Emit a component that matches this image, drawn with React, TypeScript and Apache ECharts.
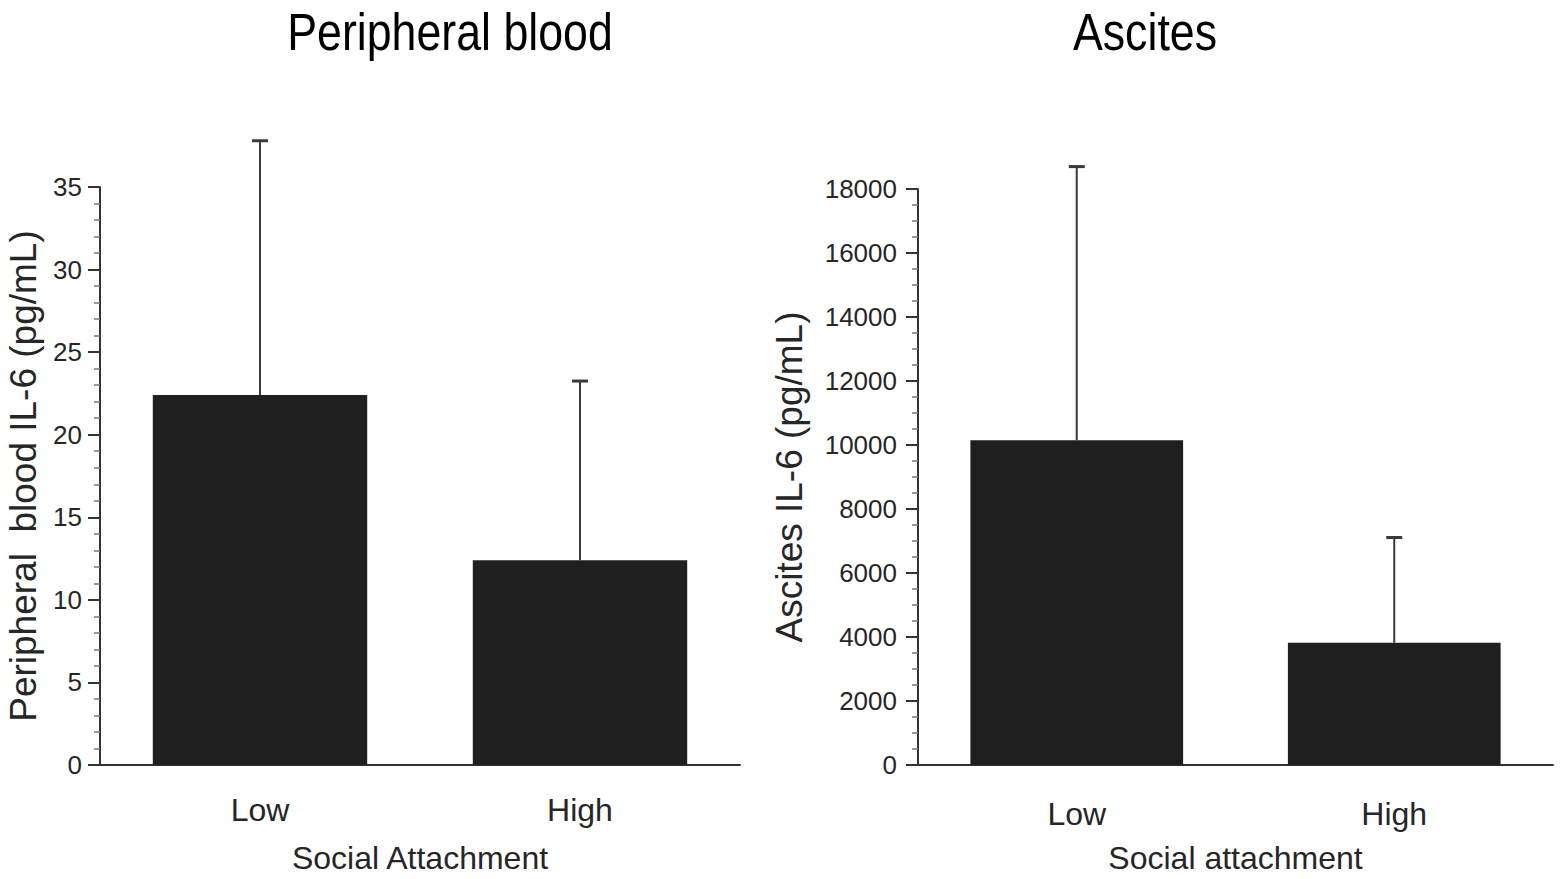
import React, { useEffect, useRef } from 'react';
import * as echarts from 'echarts';

const categories = ['Low', 'High'];
const bloodMean = [22.4, 12.4];
const bloodUpper = [37.8, 23.25];
const ascitesMean = [10150, 3820];
const ascitesUpper = [18700, 7110];

const bloodTitle = 'Peripheral blood';
const ascitesTitle = 'Ascites';
const bloodYName = 'Peripheral  blood IL-6 (pg/mL)';
const ascitesYName = 'Ascites IL-6 (pg/mL)';
const bloodXName = 'Social Attachment';
const ascitesXName = 'Social attachment';

const REG = '"Liberation Sans", Arial, sans-serif';
const AXIS = '#333';
const TEXT = '#262626';

function errorSeries(idx: number, means: number[], uppers: number[]) {
  return {
    type: 'custom',
    xAxisIndex: idx,
    yAxisIndex: idx,
    clip: false,
    z: 5,
    encode: { x: 0, y: [1, 2] },
    data: categories.map((_, i) => [i, means[i], uppers[i]]),
    renderItem: (params: any, api: any) => {
      const x = api.value(0);
      const base = api.coord([x, api.value(1)]);
      const top = api.coord([x, api.value(2)]);
      const hw = 8;
      return {
        type: 'group',
        children: [
          { type: 'line', shape: { x1: base[0], y1: base[1], x2: top[0], y2: top[1] }, style: { stroke: '#3a3a3a', lineWidth: 2 } },
          { type: 'line', shape: { x1: top[0] - hw, y1: top[1], x2: top[0] + hw, y2: top[1] }, style: { stroke: '#3a3a3a', lineWidth: 3 } },
        ],
      };
    },
  };
}

function xAxis(idx: number, name: string, labelMargin: number) {
  return {
    type: 'category',
    gridIndex: idx,
    data: categories,
    name,
    nameLocation: 'middle',
    nameGap: 77,
    nameTextStyle: { fontFamily: REG, fontSize: 32, color: TEXT },
    axisLine: { lineStyle: { color: AXIS, width: 2 } },
    axisTick: { length: 14, lineStyle: { color: AXIS, width: 2 } },
    axisLabel: { fontFamily: REG, fontSize: 32, color: TEXT, margin: labelMargin },
  };
}

function yAxis(idx: number, name: string, max: number, interval: number, minorSplit: number, nameGap: number, labelMargin: number) {
  return {
    type: 'value',
    gridIndex: idx,
    min: 0,
    max,
    interval,
    name,
    nameLocation: 'middle',
    nameRotate: 90,
    nameGap,
    nameTextStyle: { fontFamily: REG, fontSize: 37, color: TEXT },
    splitLine: { show: false },
    axisLine: { show: true, lineStyle: { color: AXIS, width: 2 } },
    axisTick: { show: true, length: 12, lineStyle: { color: AXIS, width: 2 } },
    minorTick: { show: true, splitNumber: minorSplit, length: 6, lineStyle: { color: '#777', width: 1.5 } },
    axisLabel: { fontFamily: REG, fontSize: 26, color: TEXT, margin: labelMargin, formatter: (v: number) => String(v) },
  };
}

function titleText(text: string, x: number) {
  return {
    type: 'text',
    x,
    y: 32,
    scaleX: 0.86,
    style: { text, font: `52px ${REG}`, fill: '#000', align: 'center', verticalAlign: 'middle', textAlign: 'center', textVerticalAlign: 'middle' },
  };
}

export default function App() {
  const ref = useRef<HTMLDivElement>(null);
  useEffect(() => {
    if (!ref.current) return;
    const chart = echarts.init(ref.current, null, { renderer: 'svg' });
    chart.setOption({
      animation: false,
      backgroundColor: '#fff',
      grid: [
        { left: 100, top: 187, width: 640, height: 580 },
        { left: 918, top: 189, width: 635, height: 579 },
      ],
      graphic: [titleText(bloodTitle, 450), titleText(ascitesTitle, 1145)],
      xAxis: [xAxis(0, bloodXName, 29), xAxis(1, ascitesXName, 33)],
      yAxis: [
        yAxis(0, bloodYName, 35, 5, 5, 58, 18),
        yAxis(1, ascitesYName, 18000, 2000, 4, 110, 21),
      ],
      series: [
        { type: 'bar', xAxisIndex: 0, yAxisIndex: 0, data: bloodMean, barWidth: '67%', itemStyle: { color: '#1f1f1f' } },
        { type: 'bar', xAxisIndex: 1, yAxisIndex: 1, data: ascitesMean, barWidth: '67%', itemStyle: { color: '#1f1f1f' } },
        errorSeries(0, bloodMean, bloodUpper),
        errorSeries(1, ascitesMean, ascitesUpper),
      ],
    });
    return () => chart.dispose();
  }, []);
  return <div ref={ref} style={{ position: 'absolute', left: 0, top: 0, width: 1560, height: 879 }} />;
}
